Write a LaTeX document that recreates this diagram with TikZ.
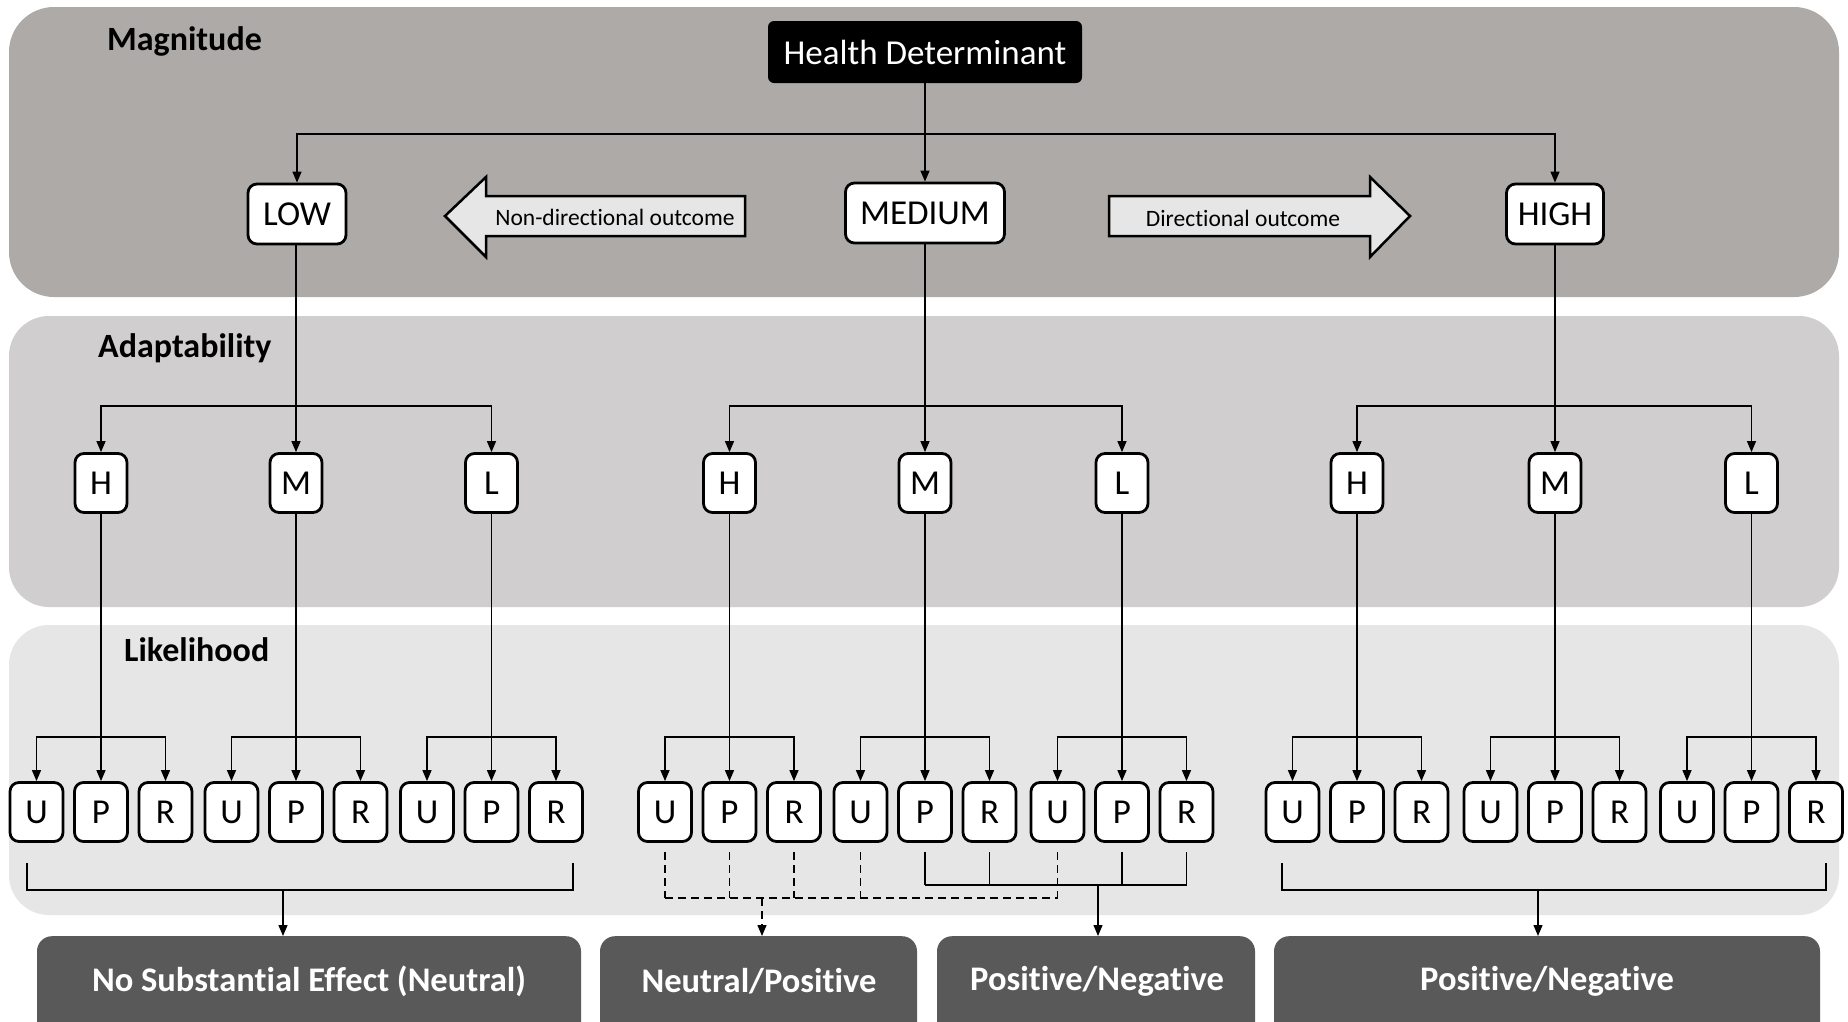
\documentclass[tikz,border=0pt]{standalone}
\usepackage{fontspec}
\setmainfont{Carlito}[Ligatures=NoCommon]
\usetikzlibrary{arrows.meta}

\definecolor{magband}{HTML}{ADAAA8}
\definecolor{adaband}{HTML}{D0CECE}
\definecolor{likband}{HTML}{E6E6E6}
\definecolor{outfill}{HTML}{595959}
\definecolor{blockfill}{HTML}{E7E6E6}

\tikzset{
  box/.style={draw=black, line width=2.8pt, fill=white, rounded corners=9pt,
    inner sep=0pt, font=\fontsize{35}{42}\selectfont},
  magbox/.style={box, minimum height=60pt},
  lvlbox/.style={box, minimum width=52pt, minimum height=59pt},
  leafbox/.style={box, minimum width=53pt, minimum height=59pt},
  conn/.style={line width=1.3pt, -{Triangle[length=11pt,width=9pt]}},
  plainline/.style={line width=1.3pt},
  brk/.style={line width=1.5pt},
  dbrk/.style={line width=1.5pt, dash pattern=on 8pt off 5pt},
  bandlabel/.style={anchor=base west, inner sep=0pt,
    font=\fontsize{34}{40}\selectfont\bfseries},
  outbox/.style={fill=outfill, rounded corners=15pt, anchor=north,
    minimum height=110pt, inner sep=0pt},
  outtext/.style={text=white, font=\fontsize{34.5}{41}\selectfont\bfseries},
  blockarrow/.style={draw=black, line width=2.5pt, fill=blockfill, line join=miter},
  arrowtext/.style={font=\fontsize{23.5}{28}\selectfont, inner sep=0pt}
}

\begin{document}
\begin{tikzpicture}[x=1pt,y=-1pt]
\clip (0,0) rectangle (1848,1021);
\fill[white] (0,0) rectangle (1848,1021);

% three horizontal bands
\fill[magband, rounded corners=45pt] (9,7) rectangle (1839,297);
\fill[adaband, rounded corners=40pt] (9,316) rectangle (1839,607);
\fill[likband, rounded corners=40pt] (9,625) rectangle (1839,915);

\node[bandlabel] (labmag) at (107,50) {Magnitude};
\node[bandlabel] (labada) at (98,357) {Adaptability};
\node[bandlabel] (lablik) at (124,661) {Likelihood};

% root and magnitude levels
\node[fill=black, text=white, rounded corners=6pt, minimum width=314pt,
  minimum height=62pt, inner sep=0pt, font=\fontsize{35}{42}\selectfont]
  (hd) at (925,52) {Health Determinant};
\node[magbox, minimum width=98pt] (low) at (297,214) {LOW};
\node[magbox, minimum width=159pt] (med) at (925,213) {MEDIUM};
\node[magbox, minimum width=97pt] (high) at (1555,214) {HIGH};

\coordinate (mbus) at (925,134);
\draw[plainline] (hd.south) -- (mbus);
\draw[conn] (mbus) -- (med.north);
\draw[conn] (mbus) -| (low.north);
\draw[conn] (mbus) -| (high.north);

% block arrows between magnitude levels
\draw[blockarrow] (745,196) -- (486,196) -- (486,177) -- (445,216)
  -- (486,257) -- (486,236) -- (745,236) -- cycle;
\node[arrowtext] (nondir) at (615,217) {Non-directional outcome};
\draw[blockarrow] (1109,196) -- (1370,196) -- (1370,177) -- (1410,216)
  -- (1370,257) -- (1370,236) -- (1109,236) -- cycle;
\node[arrowtext] (dir) at (1243,218) {Directional outcome};

% adaptability levels and likelihood leaves
\foreach \i/\x/\t in {1/101/H, 2/296/M, 3/491.5/L,
                      4/729.5/H, 5/925/M, 6/1122/L,
                      7/1357/H, 8/1555/M, 9/1751.5/L} {
  \node[lvlbox] (a\i) at (\x,483) {\t};
  \foreach \j/\dx/\s in {1/-64.5/U, 2/0/P, 3/64.5/R} {
    \node[leafbox] (l\i\j) at (\x+\dx,812) {\s};
  }
  \coordinate (lb\i) at (\x,737);
  \draw[conn] (a\i.south) -- (l\i2.north);
  \draw[conn] (lb\i) -| (l\i1.north);
  \draw[conn] (lb\i) -| (l\i3.north);
}

\foreach \m/\h/\c/\l in {low/1/2/3, med/4/5/6, high/7/8/9} {
  \coordinate (ab\m) at (a\c |- 0,406);
  \draw[conn] (\m.south -| a\c) -- (a\c.north);
  \draw[conn] (ab\m) -| (a\h.north);
  \draw[conn] (ab\m) -| (a\l.north);
}

% outcome boxes
\node[outbox, minimum width=544pt] (o1) at (309,936) {};
\node[outbox, minimum width=317pt] (o2) at (758.5,936) {};
\node[outbox, minimum width=318pt] (o3) at (1096,936) {};
\node[outbox, minimum width=546pt] (o4) at (1547,936) {};
\node[outtext] (t1) at (309,981) {No Substantial Effect (Neutral)};
\node[outtext] (t2) at (759,981) {Neutral/Positive};
\node[outtext] (t3) at (1097,981) {Positive/Negative};
\node[outtext] (t4) at (1547,981) {Positive/Negative};

% bracket: low magnitude
\coordinate (b1a) at (27,863);
\coordinate (b1b) at (573,863);
\coordinate (j1) at (283,890);
\draw[brk] (b1a) -- (27,890) -- (573,890) -- (b1b);
\draw[conn] (j1) -- (j1 |- o1.north);

% bracket: high magnitude
\coordinate (b4a) at (1282,863);
\coordinate (b4b) at (1826,863);
\coordinate (j4) at (1538,890);
\draw[brk] (b4a) -- (1282,890) -- (1826,890) -- (b4b);
\draw[conn] (j4) -- (j4 |- o4.north);

% medium magnitude: solid bracket
\foreach \n in {52,53,62,63} {
  \draw[brk] (l\n.south |- 0,852) -- (l\n.south |- 0,885);
}
\draw[brk] (l52.south |- 0,885) -- (l63.south |- 0,885);
\coordinate (j3) at (1098,885);
\draw[conn] (j3) -- (j3 |- o3.north);

% medium magnitude: dashed bracket
\foreach \n in {41,42,43,51,61} {
  \draw[dbrk] (l\n.south |- 0,852) -- (l\n.south |- 0,898);
}
\draw[dbrk] (l41.south |- 0,898) -- (l61.south |- 0,898);
\coordinate (j2) at (762,898);
\draw[conn, dash pattern=on 8pt off 5pt] (j2) -- (j2 |- o2.north);
\end{tikzpicture}
\end{document}
